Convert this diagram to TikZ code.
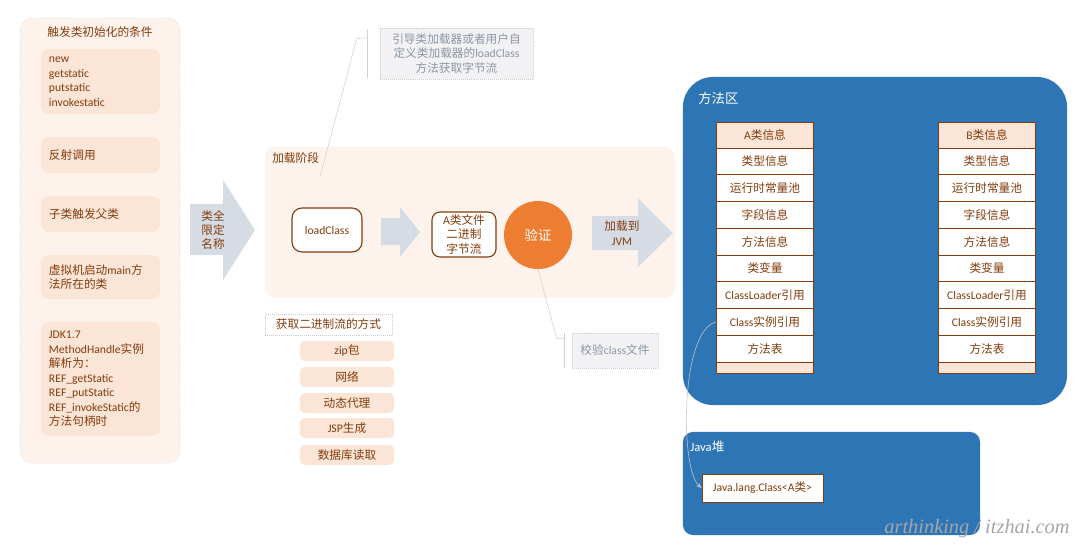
\documentclass[tikz,border=0pt]{standalone}
\usepackage{fontspec}
\setmainfont{Noto Sans CJK SC}
\newfontfamily\latn{Carlito}
\newfontfamily\wmfont{Liberation Serif}
\usepackage{tikz}
\usetikzlibrary{positioning,arrows.meta,calc}
\definecolor{JBrown}{RGB}{132,60,12}
\definecolor{JPeach}{RGB}{251,229,214}
\definecolor{JPanel}{RGB}{253,243,236}
\definecolor{JBlue}{RGB}{46,117,182}
\definecolor{JOrange}{RGB}{237,125,49}
\definecolor{JArrow}{RGB}{214,220,228}
\definecolor{JNote}{RGB}{242,242,244}
\definecolor{JNoteText}{RGB}{140,150,165}
\newcommand\enf[1]{{\latn #1}}
\newcommand\txtsize{\fontsize{8.3}{10.3}\selectfont}

\begin{document}
\begin{tikzpicture}[x=0.025cm, y=-0.025cm,
    panel/.style={rectangle, rounded corners=0.3cm, fill=JPanel, inner sep=0pt},
    cond/.style={rectangle, rounded corners=0.2cm, fill=JPeach, text=JBrown, font=\txtsize, text width=2.575cm, align=left, inner xsep=0.2cm, inner ysep=0pt},
    way/.style={rectangle, rounded corners=0.12cm, fill=JPeach, text=JBrown, font=\txtsize, minimum width=2.35cm, minimum height=0.5cm, inner sep=0pt},
    stepbox/.style={rectangle, rounded corners=0.25cm, draw=JBrown, thick, fill=white, text=JBrown, font=\txtsize, align=center, inner sep=0pt},
    note/.style={rectangle, draw=gray!40, densely dotted, fill=JNote, text=JNoteText, font=\txtsize, align=center, inner sep=0pt},
    bigarrow/.style={fill=JArrow},
    thead/.style={rectangle, draw=JBrown, fill=JPeach, text=JBrown, font=\txtsize, minimum width=2.42cm, minimum height=0.65cm, inner sep=0pt},
    trow/.style={thead, fill=white, minimum height=0.669cm},
    tfoot/.style={thead, minimum height=0.275cm},
    area/.style={rectangle, fill=JBlue, inner sep=0pt},
    title/.style={text=JBrown, font=\txtsize, inner sep=0pt},
    callout/.style={draw=gray!35, thin},
    link/.style={-{Stealth[length=4pt,width=3pt]}, draw=gray!45, thin}
]
    \useasboundingbox (0,0) rectangle (1080,548);

    % Left panel - trigger conditions
    \node[panel, draw=gray!35, densely dotted, minimum width=4cm, minimum height=11.125cm] (trig) at (100,240.5) {};
    \node[title] (trigtitle) at (100,32) {触发类初始化的条件};
    \node[cond, minimum height=1.625cm] (c1) at (100.5,81.5) {\enf{new}\\\enf{getstatic}\\\enf{putstatic}\\\enf{invokestatic}};
    \node[cond, minimum height=0.9cm] (c2) at (100.5,155) {反射调用};
    \node[cond, minimum height=0.9cm] (c3) at (100.5,214) {子类触发父类};
    \node[cond, minimum height=1.1cm] (c4) at (100.5,277) {虚拟机启动\enf{main}方\\法所在的类};
    \node[cond, minimum height=2.85cm] (c5) at (100.5,379) {\enf{JDK1.7}\\\enf{MethodHandle}实例\\解析为：\\\enf{REF\_getStatic}\\\enf{REF\_putStatic}\\\enf{REF\_invokeStatic}的\\方法句柄时};

    % Arrow - fully qualified name
    \fill[bigarrow] (190,204) -- (223,204) -- (223,180) -- (255,230) -- (223,280) -- (223,255) -- (190,255) -- cycle;
    \node[title, align=center] (fqn) at (213,230) {类全\\限定\\名称};

    % Loading stage
    \node[panel, rounded corners=0.25cm, minimum width=10.25cm, minimum height=3.775cm] (load) at (470,222.5) {};
    \node[title, anchor=west] (loadtitle) at (272,158) {加载阶段};
    \node[stepbox, minimum width=1.75cm, minimum height=1.1cm] (lc) at (327,230) {\enf{loadClass}};
    \fill[bigarrow] (381,218) -- (400,218) -- (400,207) -- (420,232) -- (400,257) -- (400,245) -- (381,245) -- cycle;
    \node[stepbox, rounded corners=0.2cm, minimum width=1.6cm, minimum height=1.125cm] (bytes) at (464,234.5) {\enf{A}类文件\\二进制\\字节流};
    \node[circle, fill=JOrange, text=white, font=\fontsize{9.5}{11}\selectfont, minimum size=1.7cm, inner sep=0pt] (verify) at (538,235) {验证};
    \fill[bigarrow] (592,216) -- (638,216) -- (638,198) -- (673,233) -- (638,267) -- (638,250) -- (592,250) -- cycle;
    \node[title, align=center] (tojvm) at (622,233) {加载到\\\enf{JVM}};

    % Notes
    \node[note, minimum width=3.825cm, minimum height=1.275cm] (note1) at (456.5,53.5) {引导类加载器或者用户自\\定义类加载器的\enf{loadClass}\\方法获取字节流};
    \coordinate (n1tip) at (320,177);
    \draw[callout] ($(note1.north west)+(-12,1)$) -- ($(note1.south west)+(-12,-1)$);
    \draw[callout] ($(note1.north west)+(-12,10)$) -- ++(-11,1) -- (n1tip);
    \node[note, minimum width=2.15cm, minimum height=0.875cm] (note2) at (615,350.5) {校验\enf{class}文件};
    \draw[callout] ($(note2.north west)+(-7,0)$) -- ($(note2.south west)+(-7,0)$);
    \draw[callout] (verify.south) -- ($(note2.north west)+(-15,6)$) -- ++(8,0);

    % Ways to get the byte stream
    \node[rectangle, draw=gray!40, densely dotted, fill=white, text=JBrown, font=\txtsize, minimum width=3.175cm, minimum height=0.525cm, inner sep=0pt] (ways) at (328.5,324.5) {获取二进制流的方式};
    \node[way] (w1) at (347,351) {\enf{zip}包};
    \node[way] (w2) at (347,377) {网络};
    \node[way] (w3) at (347,403) {动态代理};
    \node[way] (w4) at (347,428) {\enf{JSP}生成};
    \node[way] (w5) at (347,455) {数据库读取};

    % Method area
    \node[area, rounded corners=0.75cm, minimum width=9.6cm, minimum height=8.2cm] (method) at (875,241) {};
    \node[anchor=west, text=white, font=\fontsize{9.5}{11}\selectfont, inner sep=0pt] (methodtitle) at (698,98) {方法区};
    \node[thead] (ahead) at (765,135) {\enf{A}类信息};
    \node[thead] (bhead) at (987,135) {\enf{B}类信息};
    \foreach \txt [count=\i] in {类型信息, 运行时常量池, 字段信息, 方法信息, 类变量, \enf{ClassLoader}引用, \enf{Class}实例引用, 方法表} {
        \node[trow] (a\i) at (765,134.6+26.75*\i) {\txt};
        \node[trow] (b\i) at (987,134.6+26.75*\i) {\txt};
    }
    \node[tfoot] (afoot) at (765,367.5) {};
    \node[tfoot] (bfoot) at (987,367.5) {};

    % Java heap
    \node[area, rounded corners=0.25cm, minimum width=7.425cm, minimum height=2.575cm] (heap) at (831.5,483.5) {};
    \node[anchor=west, text=white, font=\fontsize{9}{11}\selectfont, inner sep=0pt] (heaptitle) at (690,447) {\enf{Java}堆};
    \node[rectangle, draw=JBrown, fill=white, text=JBrown, font=\txtsize, minimum width=3.025cm, minimum height=0.7cm, inner sep=0pt] (jclass) at (762.5,488) {\enf{Java.lang.Class<A}类\enf{>}};
    \draw[link] (a7.west) .. controls (680,330) and (680,470) .. (jclass.west);

    % Watermark
    \node[text=gray!70, font=\wmfont\itshape\fontsize{14.5}{16}\selectfont, inner sep=0pt] (wmark) at (977,529) {arthinking / itzhai.com};
\end{tikzpicture}
\end{document}
